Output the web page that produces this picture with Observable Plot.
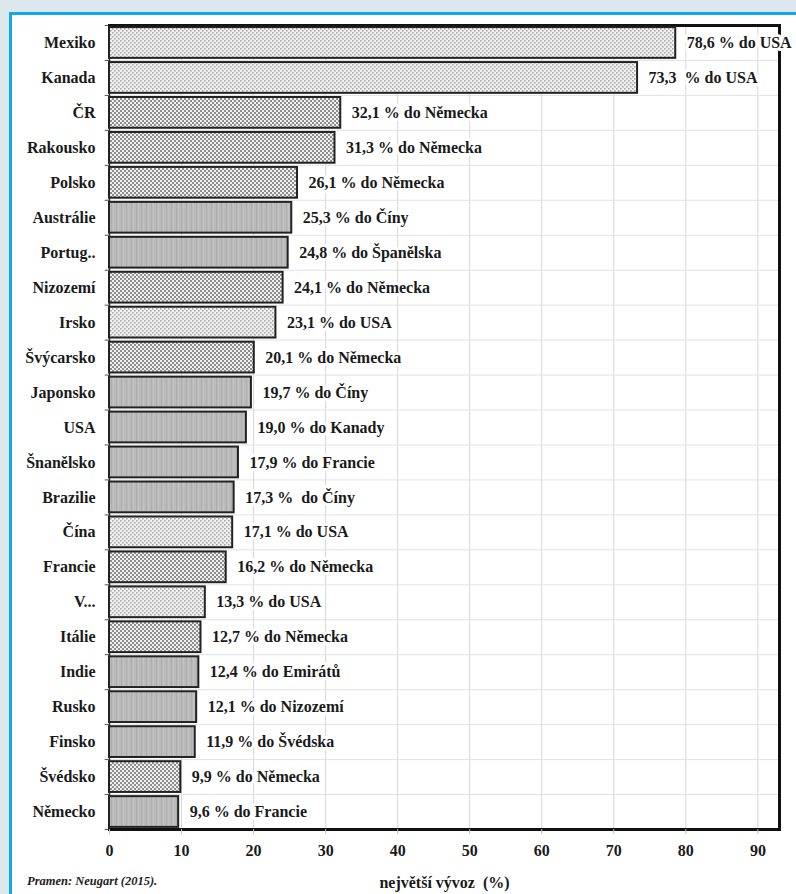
<!DOCTYPE html>
<html>
<head>
<meta charset="utf-8">
<script src="https://cdn.jsdelivr.net/npm/d3@7"></script>
<script src="https://cdn.jsdelivr.net/npm/@observablehq/plot@0.6"></script>
<style>
  html, body { margin: 0; padding: 0; background: #dde7ee; width: 796px; height: 894px; overflow: hidden; }
  #panel { position: absolute; left: 9px; top: 12px; width: 820px; height: 900px; background: #fff; border-left: 3px solid #10a8ea; border-top: 3px solid #10a8ea; box-sizing: border-box; }
  #chart { position: absolute; left: 0; top: 0; }
  #source { position: absolute; left: 27px; top: 874px; font: italic bold 12.5px "Liberation Serif", "Times New Roman", serif; color: #222; }
</style>
</head>
<body>
<div id="panel"></div>
<div id="chart"></div>
<div id="source">Pramen: Neugart (2015).</div>
<script>
const countries = ["Mexiko","Kanada","ČR","Rakousko","Polsko","Austrálie","Portug..","Nizozemí","Irsko","Švýcarsko","Japonsko","USA","Šnanělsko","Brazilie","Čína","Francie","V...","Itálie","Indie","Rusko","Finsko","Švédsko","Německo"];
const values = [78.6,73.3,32.1,31.3,26.1,25.3,24.8,24.1,23.1,20.1,19.7,19.0,17.9,17.3,17.1,16.2,13.3,12.7,12.4,12.1,11.9,9.9,9.6];
const labels = ["78,6 % do USA","73,3  % do USA","32,1 % do Německa","31,3 % do Německa","26,1 % do Německa","25,3 % do Číny","24,8 % do Španělska","24,1 % do Německa","23,1 % do USA","20,1 % do Německa","19,7 % do Číny","19,0 % do Kanady","17,9 % do Francie","17,3 %  do Číny","17,1 % do USA","16,2 % do Německa","13,3 % do USA","12,7 % do Německa","12,4 % do Emirátů","12,1 % do Nizozemí","11,9 % do Švédska","9,9 % do Německa","9,6 % do Francie"];
const partners = ["USA","USA","Německo","Německo","Německo","Čína","Španělsko","Německo","USA","Německo","Čína","Kanada","Francie","Čína","USA","Německo","USA","Německo","Emiráty","Nizozemí","Švédsko","Německo","Francie"];
const xTicks = [0,10,20,30,40,50,60,70,80,90];

const data = countries.map((c, i) => ({country: c, value: values[i], label: labels[i], partner: partners[i]}));
const patternOf = p => p === "USA" ? "url(#pDots)" : p === "Německo" ? "url(#pCheck)" : "url(#pGray)";

const W = 796, H = 894, mL = 109, mR = 17, mT = 25, mB = 65;
const pIn = 0.12, pOut = 0.06;
const step = (H - mT - mB) / (countries.length - pIn + 2 * pOut);
const serif = '"Liberation Serif", "Times New Roman", serif';

function defsMark() {
  const NS = "http://www.w3.org/2000/svg";
  const defs = document.createElementNS(NS, "defs");
  defs.innerHTML = `
    <pattern id="pDots" width="4" height="4" patternUnits="userSpaceOnUse">
      <rect width="4" height="4" fill="#f2f2f2"/>
      <rect x="0" y="0" width="1.6" height="1.6" fill="#a8a8a8"/>
      <rect x="2" y="2" width="1.6" height="1.6" fill="#a8a8a8"/>
    </pattern>
    <pattern id="pCheck" width="4" height="4" patternUnits="userSpaceOnUse">
      <rect width="4" height="4" fill="#8e8e8e"/>
      <rect x="0" y="0" width="2" height="2" fill="#efefef"/>
      <rect x="2" y="2" width="2" height="2" fill="#efefef"/>
    </pattern>
    <pattern id="pGray" width="5" height="5" patternUnits="userSpaceOnUse">
      <rect width="5" height="5" fill="#bababa"/>
      <rect x="1" y="0" width="1" height="5" fill="#aeaeae"/>
      <rect x="3" y="0" width="1" height="5" fill="#c2c2c2"/>
    </pattern>`;
  return defs;
}

const chart = Plot.plot({
  width: W, height: H,
  marginLeft: mL, marginRight: mR, marginTop: mT, marginBottom: mB,
  style: {background: "transparent", fontFamily: serif, fontWeight: "bold", color: "#1a1a1a"},
  x: {domain: [0, 93]},
  y: {domain: countries, paddingInner: pIn, paddingOuter: pOut, round: false},
  marks: [
    defsMark,
    Plot.ruleX(xTicks.slice(1), {stroke: "#d6d6d6", strokeWidth: 1}),
    Plot.ruleY(countries.slice(0, -1), {y: d => d, dy: step / 2, x1: 0, x2: 93, stroke: "#e2e2e2", strokeWidth: 1}),
    Plot.ruleY(countries, {y: d => d, dy: -step / 2, x1: -0.6, x2: 0, stroke: "#555", strokeWidth: 1}),
    Plot.ruleY(countries.slice(-1), {y: d => d, dy: step / 2, x1: -0.6, x2: 0, stroke: "#555", strokeWidth: 1}),
    Plot.frame({anchor: "left", stroke: "#333", strokeWidth: 1.5}),
    Plot.frame({anchor: "top", stroke: "#111", strokeWidth: 3}),
    Plot.frame({anchor: "right", stroke: "#111", strokeWidth: 3}),
    Plot.frame({anchor: "bottom", stroke: "#111", strokeWidth: 3}),
    Plot.barX(data, {x: "value", y: "country", fill: d => patternOf(d.partner), stroke: "#222", strokeWidth: 2}),
    Plot.text(data, {x: "value", y: "country", text: "label", dx: 11, textAnchor: "start", fontSize: 16, fontWeight: "bold", fill: "#1a1a1a", stroke: "white", strokeWidth: 6}),
    Plot.axisY({tickSize: 0, tickPadding: 14, fontSize: 16, label: null}),
    Plot.axisX({ticks: xTicks, tickSize: 5, tickPadding: 10, fontSize: 16, stroke: "#bbb",
      label: "největší vývoz\u00a0\u00a0(%)", labelAnchor: "center", labelArrow: "none", labelOffset: 58, tickFormat: d => String(d)})
  ]
});
document.getElementById("chart").appendChild(chart);
</script>
</body>
</html>
